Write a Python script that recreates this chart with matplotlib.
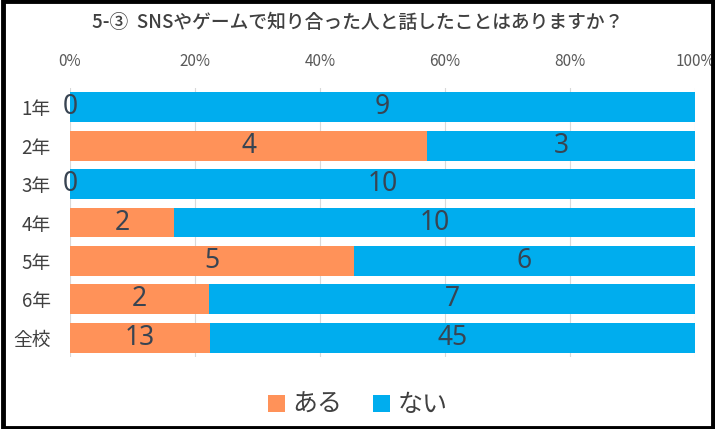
import matplotlib
matplotlib.use("Agg")
import matplotlib.pyplot as plt
from matplotlib.patches import Rectangle
import numpy as np

plt.rcParams['font.family'] = ['Noto Sans CJK JP', 'DejaVu Sans']

categories = ["1年", "2年", "3年", "4年", "5年", "6年", "全校"]
aru = [0, 4, 0, 2, 5, 2, 13]
nai = [9, 3, 10, 10, 6, 7, 45]
series_names = ["ある", "ない"]
ticks = [0, 20, 40, 60, 80, 100]
title = "5-③  SNSやゲームで知り合った人と話したことはありますか？"

c_aru = "#FF9259"
c_nai = "#00ADEE"
txt = "#404040"

fig = plt.figure(figsize=(7.15, 4.29), dpi=100)
ax = fig.add_axes([70/715, 1-357/429, (695-70)/715, (357-88)/429])

tot = np.array(aru) + np.array(nai)
p_aru = np.array(aru) / tot * 100
p_nai = np.array(nai) / tot * 100
y = np.arange(len(categories))
h = 0.78
ax.barh(y, p_aru, height=h, color=c_aru, label=series_names[0], zorder=3)
ax.barh(y, p_nai, left=p_aru, height=h, color=c_nai, label=series_names[1], zorder=3)

for i in range(len(categories)):
    ax.text(p_aru[i] / 2, y[i], str(aru[i]), ha="center", va="center",
            fontsize=19, color="#384452", zorder=4, family=['Noto Sans', 'DejaVu Sans'])
    ax.text(p_aru[i] + p_nai[i] / 2, y[i], str(nai[i]), ha="center", va="center",
            fontsize=19, color="#384452", zorder=4, family=['Noto Sans', 'DejaVu Sans'])

ax.set_xlim(0, 100)
ax.set_ylim(len(categories) - 0.5, -0.5)
ax.set_xticks(ticks)
ax.set_xticklabels([f"{t}%" for t in ticks], fontsize=11, color="#595959")
ax.xaxis.tick_top()
ax.tick_params(axis="x", length=0, pad=13)
ax.set_yticks(y)
ax.set_yticklabels(categories, fontsize=13.5, color=txt)
ax.tick_params(axis="y", length=0, pad=14)
ax.grid(axis="x", color="#D9D9D9", linewidth=0.8, zorder=0)
for s in ax.spines.values():
    s.set_visible(False)

fig.text(0.5, 1-22/429, title, ha="center", va="center", fontsize=13.5,
         color=txt, fontweight="medium")

leg = fig.legend(loc="center", bbox_to_anchor=(0.5, 1-405/429), ncol=2, frameon=False,
                 fontsize=18, handlelength=0.7, handleheight=0.7, handletextpad=0.3,
                 columnspacing=1.2)
for t in leg.get_texts():
    t.set_color(txt)

fig.add_artist(Rectangle((0.004, 0.003), 0.993, 0.994, transform=fig.transFigure,
                         fill=False, edgecolor="black", linewidth=3.5))

fig.savefig("out.png", dpi=100)
